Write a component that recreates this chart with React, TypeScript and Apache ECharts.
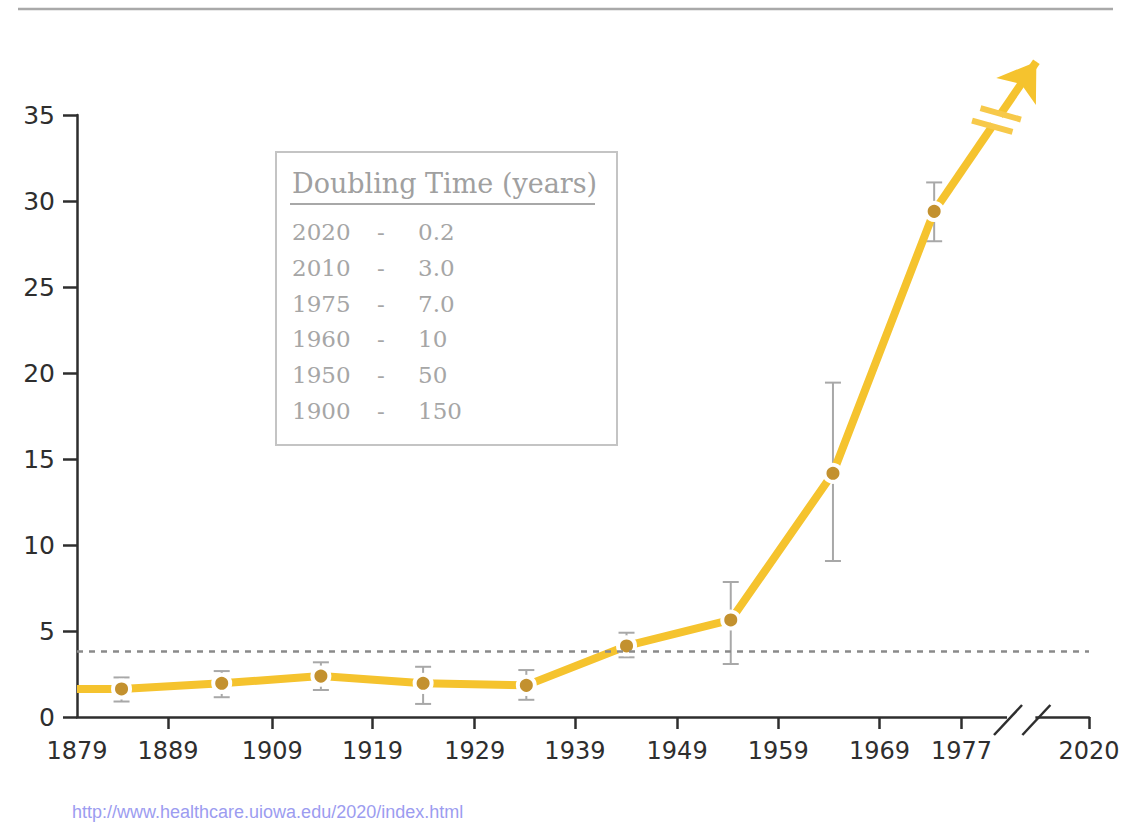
import React, { useEffect, useRef } from "react";
import * as echarts from "echarts";

// ---- data ----
const tickLabels = ["1879", "1889", "1909", "1919", "1929", "1939", "1949", "1959", "1969", "1977", "2020"];
const tickSlots = [0, 0.9, 1.93, 2.92, 3.93, 4.92, 5.93, 6.93, 7.93, 8.74, 10];
const pointSlots = [0.44, 1.43, 2.41, 3.42, 4.44, 5.43, 6.46, 7.47, 8.47];
const values = [1.63, 1.96, 2.38, 1.96, 1.84, 4.13, 5.64, 14.17, 29.4];
const lows = [0.9, 1.15, 1.57, 0.76, 1.0, 3.47, 3.08, 9.07, 27.66];
const highs = [2.3, 2.67, 3.18, 2.92, 2.73, 4.9, 7.85, 19.44, 31.08];
const lineStart = [0, 1.63];
const arrowTip = [9.48, 38.1];
const threshold = 3.85;
const axisBreak = [9.19, 9.47];
const yMin = 0;
const yMax = 35;
const yStep = 5;
const legendTitle = "Doubling Time (years)";
const legendYears = ["2020", "2010", "1975", "1960", "1950", "1900"];
const legendDoubling = ["0.2", "3.0", "7.0", "10", "50", "150"];
const sourceUrl = "http://www.healthcare.uiowa.edu/2020/index.html";

const YELLOW = "#F5C32E";
const MARKER = "#C3912F";
const AXIS = "#2e2e2e";
const ERR = "#a8a8a8";
const LEGEND_TXT = "#a6a6a6";

export default function App() {
  const ref = useRef<HTMLDivElement>(null);

  useEffect(() => {
    if (!ref.current) return;
    const chart = echarts.init(ref.current, undefined, { renderer: "svg" });

    const lineData: any[] = [
      { value: lineStart, symbol: "none" },
      ...pointSlots.map((x, i) => [x, values[i]]),
    ];
    const last = [pointSlots[pointSlots.length - 1], values[values.length - 1]];

    const option: any = {
      animation: false,
      backgroundColor: "#ffffff",
      grid: { left: 77, right: 36, top: 115, bottom: 105, containLabel: false },
      xAxis: {
        type: "value",
        min: 0,
        max: 10,
        axisLine: { show: true, lineStyle: { color: AXIS, width: 2.5 } },
        axisTick: {
          show: true,
          length: 12,
          customValues: tickSlots.slice(1),
          lineStyle: { color: AXIS, width: 2.5 },
        },
        axisLabel: {
          customValues: tickSlots,
          margin: 22,
          fontSize: 24,
          fontFamily: "DejaVu Sans",
          color: AXIS,
          formatter: (v: number) => {
            const i = tickSlots.findIndex((s) => Math.abs(s - v) < 1e-6);
            return i >= 0 ? tickLabels[i] : "";
          },
        },
        splitLine: { show: false },
      },
      yAxis: {
        type: "value",
        min: yMin,
        max: yMax,
        interval: yStep,
        axisLine: { show: true, lineStyle: { color: AXIS, width: 2.5 } },
        axisTick: { show: true, length: 14, lineStyle: { color: AXIS, width: 2.5 } },
        axisLabel: { margin: 22, fontSize: 25, fontFamily: "DejaVu Sans", color: AXIS },
        splitLine: { show: false },
      },
      series: [
        {
          type: "line",
          name: "threshold",
          data: [],
          z: 1,
          silent: true,
          markLine: {
            silent: true,
            symbol: ["none", "none"],
            label: { show: false },
            lineStyle: { color: "#8a8a8a", width: 2.5, type: [6, 6] },
            data: [{ yAxis: threshold }],
          },
        },
        {
          type: "custom",
          name: "error",
          z: 2,
          silent: true,
          data: pointSlots.map((x, i) => [x, lows[i], highs[i]]),
          encode: { x: 0, y: [1, 2] },
          renderItem: (_params: any, api: any) => {
            const x = api.value(0);
            const pLo = api.coord([x, api.value(1)]);
            const pHi = api.coord([x, api.value(2)]);
            const cw = 8;
            const style = { stroke: ERR, lineWidth: 2 };
            return {
              type: "group",
              children: [
                { type: "line", shape: { x1: pLo[0], y1: pLo[1], x2: pHi[0], y2: pHi[1] }, style },
                { type: "line", shape: { x1: pLo[0] - cw, y1: pLo[1], x2: pLo[0] + cw, y2: pLo[1] }, style },
                { type: "line", shape: { x1: pHi[0] - cw, y1: pHi[1], x2: pHi[0] + cw, y2: pHi[1] }, style },
              ],
            };
          },
        },
        {
          type: "lines",
          name: "arrow",
          coordinateSystem: "cartesian2d",
          z: 3,
          clip: false,
          silent: true,
          symbol: ["none", "arrow"],
          symbolSize: [27, 36],
          lineStyle: { color: YELLOW, width: 8, opacity: 1 },
          data: [{ coords: [last, arrowTip] }],
        },
        {
          type: "line",
          name: "population",
          z: 4,
          clip: false,
          data: lineData,
          symbol: "circle",
          symbolSize: 17,
          lineStyle: { color: YELLOW, width: 8, cap: "butt", join: "round" },
          itemStyle: { color: MARKER, borderColor: "#ffffff", borderWidth: 4 },
        },
      ],
    };

    chart.setOption(option);

    const g = { gridIndex: 0 };
    const a = chart.convertToPixel(g, last) as number[];
    const b = chart.convertToPixel(g, arrowTip) as number[];
    const len = Math.hypot(b[0] - a[0], b[1] - a[1]);
    const u = [(b[0] - a[0]) / len, (b[1] - a[1]) / len];
    const at = (d: number) => [a[0] + u[0] * d, a[1] + u[1] * d];
    const barDir = [0.963, 0.271];
    const barHalf = 21;
    const bars = [103, 118].map((d) => {
      const p = at(d);
      return {
        type: "line",
        z: 100,
        shape: {
          x1: p[0] - barDir[0] * barHalf,
          y1: p[1] - barDir[1] * barHalf,
          x2: p[0] + barDir[0] * barHalf,
          y2: p[1] + barDir[1] * barHalf,
        },
        style: { stroke: "#F7C94A", lineWidth: 6 },
      };
    });
    const g1 = at(105);
    const g2 = at(116);

    const bs = chart.convertToPixel(g, [axisBreak[0], 0]) as number[];
    const be = chart.convertToPixel(g, [axisBreak[1], 0]) as number[];
    const slash = (p: number[]) => ({
      type: "line",
      z: 100,
      shape: { x1: p[0] - 13, y1: p[1] + 18, x2: p[0] + 15, y2: p[1] - 12 },
      style: { stroke: AXIS, lineWidth: 2.5 },
    });

    const legendRows: any[] = [];
    legendYears.forEach((yr, i) => {
      const y = 232 + i * 35.8;
      const st = { fontSize: 23, fontFamily: "DejaVu Serif", fill: LEGEND_TXT, verticalAlign: "middle" };
      legendRows.push({ type: "text", x: 292, y, style: { ...st, text: yr, align: "left" } });
      legendRows.push({ type: "text", x: 381, y, style: { ...st, text: "-", align: "center" } });
      legendRows.push({ type: "text", x: 418, y, style: { ...st, text: legendDoubling[i], align: "left" } });
    });

    chart.setOption({
      graphic: [
        {
          type: "line",
          shape: { x1: 18, y1: 9, x2: 1113, y2: 9 },
          style: { stroke: "#a9a9a9", lineWidth: 2.5 },
        },
        {
          type: "line",
          z: 99,
          shape: { x1: g1[0], y1: g1[1], x2: g2[0], y2: g2[1] },
          style: { stroke: "#ffffff", lineWidth: 12 },
        },
        ...bars,
        {
          type: "rect",
          z: 99,
          shape: { x: bs[0], y: bs[1] - 4, width: be[0] - bs[0], height: 8 },
          style: { fill: "#ffffff" },
        },
        slash(bs),
        slash(be),
        {
          type: "group",
          z: 50,
          children: [
            {
              type: "rect",
              shape: { x: 276, y: 152, width: 341, height: 293 },
              style: { fill: "#ffffff", stroke: "#c4c4c4", lineWidth: 2 },
            },
            {
              type: "text",
              x: 292,
              y: 183,
              style: {
                text: legendTitle,
                fontSize: 27,
                fontFamily: "DejaVu Serif",
                fill: "#a0a0a0",
                verticalAlign: "middle",
                align: "left",
              },
            },
            {
              type: "line",
              shape: { x1: 290, y1: 204, x2: 595, y2: 204 },
              style: { stroke: "#a8a8a8", lineWidth: 2 },
            },
            ...legendRows,
          ],
        },
        {
          type: "text",
          x: 72,
          y: 812,
          style: {
            text: sourceUrl,
            fontSize: 18,
            fontFamily: "Liberation Sans",
            fill: "#9c9cf0",
            verticalAlign: "middle",
            align: "left",
          },
        },
      ],
    });

    return () => chart.dispose();
  }, []);

  return (
    <div
      ref={ref}
      style={{ position: "absolute", left: 0, top: 0, width: 1125, height: 822, background: "#fff" }}
    />
  );
}
